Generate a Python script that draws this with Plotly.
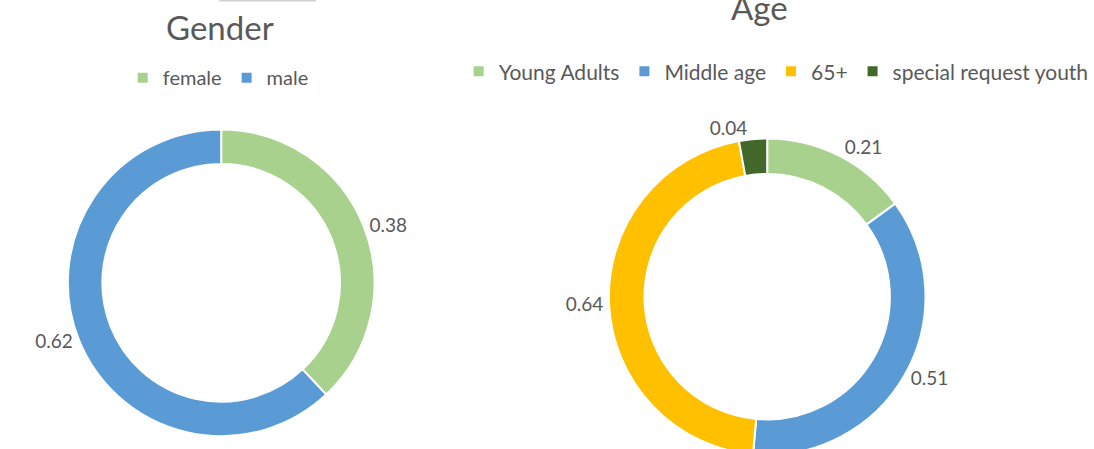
import plotly.graph_objects as go

gender_labels = ["female", "male"]
gender_values = [0.38, 0.62]
age_labels = ["Young Adults", "Middle age", "65+", "special request youth"]
age_values = [0.21, 0.51, 0.64, 0.04]

gender_colors = ["#A9D18E", "#5B9BD5"]
age_colors = ["#A9D18E", "#5B9BD5", "#FFC000", "#43682B"]

W = 1094
HT = 461  # figure is slightly taller than the 449px view so the right ring is cut at the bottom
FONT = "Lato"
TXT = "#595959"


def yt(px):
    """paper y for a distance in px from the top edge"""
    return 1 - px / HT


fig = go.Figure()
fig.add_trace(go.Pie(
    labels=gender_labels, values=gender_values, hole=0.775, sort=False,
    direction="clockwise", rotation=0,
    marker=dict(colors=gender_colors, line=dict(color="white", width=2)),
    texttemplate="%{value}", textposition="outside",
    textfont=dict(family=FONT, size=19, color=TXT),
    domain=dict(x=[68 / W, 376 / W], y=[yt(438), yt(130)]),
    legend="legend", showlegend=True, hoverinfo="label+value",
))
fig.add_trace(go.Pie(
    labels=age_labels, values=age_values, hole=0.775, sort=False,
    direction="clockwise", rotation=0,
    marker=dict(colors=age_colors, line=dict(color="white", width=2)),
    texttemplate="%{value}", textposition="outside",
    textfont=dict(family=FONT, size=19, color=TXT),
    domain=dict(x=[611 / W, 929 / W], y=[yt(457), yt(139)]),
    legend="legend2", showlegend=True, hoverinfo="label+value",
))

fig.update_layout(
    width=W, height=HT,
    margin=dict(l=0, r=0, t=0, b=0),
    paper_bgcolor="white", plot_bgcolor="white",
    font=dict(family=FONT, color=TXT),
    legend=dict(orientation="h", x=219 / W, xanchor="center", y=yt(78), yanchor="middle",
                font=dict(family=FONT, size=20, color=TXT), itemsizing="constant",
                traceorder="normal", bgcolor="rgba(0,0,0,0)", itemwidth=30),
    legend2=dict(orientation="h", x=779 / W, xanchor="center", y=yt(72), yanchor="middle",
                 font=dict(family=FONT, size=21, color=TXT), itemsizing="constant",
                 traceorder="normal", bgcolor="rgba(0,0,0,0)", itemwidth=30),
    annotations=[
        dict(text="Gender", x=221 / W, y=yt(27), xref="paper", yref="paper",
             showarrow=False, font=dict(family=FONT, size=33, color=TXT),
             xanchor="center", yanchor="middle"),
        dict(text="Age", x=762 / W, y=yt(7), xref="paper", yref="paper",
             showarrow=False, font=dict(family=FONT, size=33, color=TXT),
             xanchor="center", yanchor="middle"),
    ],
    shapes=[dict(type="line", xref="paper", yref="paper", x0=220 / W, x1=317 / W,
                 y0=1, y1=1, line=dict(color="#D0D0D0", width=3))],
)

fig.write_html(
    "out.html",
    config={"displayModeBar": False},
    post_script="document.body.style.margin='0px';document.body.style.overflow='hidden';"
                "document.documentElement.style.overflow='hidden';",
)
